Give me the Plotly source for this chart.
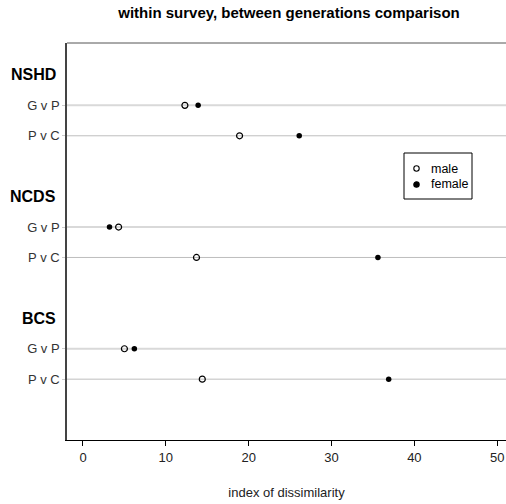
import plotly.graph_objects as go

groups = ["NSHD", "NCDS", "BCS"]
comparisons = ["G v P", "P v C"]
male = [[12.3, 18.9], [4.3, 13.7], [5.0, 14.4]]
female = [[13.9, 26.1], [3.2, 35.6], [6.2, 36.9]]
x_ticks = [0, 10, 20, 30, 40, 50]
legend_labels = ["male", "female"]

FONT = "Liberation Sans, Arial, sans-serif"

# plot area in pixels (for placing paper-referenced decorations)
L, R, T, B = 67, 506, 43, 440
PW, PH = R - L, B - T


def px_x(p):
    return (p - L) / PW


def px_y(p):
    return (B - p) / PH


# row positions (dotchart layout: group label row followed by its comparisons, blank row between groups)
label_rows, rows, row_text = [], [], []
mx, my, fx, fy = [], [], [], []
for g, name in enumerate(groups):
    top = 11 - 4 * g
    label_rows.append(top)
    for c, comp in enumerate(comparisons):
        r = top - 1 - c
        rows.append(r)
        row_text.append(comp)
        mx.append(male[g][c]); my.append(r)
        fx.append(female[g][c]); fy.append(r)

fig = go.Figure()

shapes = []
for r, t in zip(rows, row_text):
    if t == "G v P":
        shapes.append(dict(type="line", xref="paper", yref="y", x0=0, x1=1, y0=r, y1=r,
                           line=dict(color="#d9d9d9", width=2), layer="below"))
    else:
        shapes.append(dict(type="line", xref="paper", yref="y", x0=0, x1=1, y0=r, y1=r,
                           line=dict(color="#bebebe", width=1), layer="below"))
shapes.append(dict(type="line", xref="paper", yref="paper", x0=0, x1=1, y0=1, y1=1,
                   line=dict(color="#555555", width=1)))

fig.add_trace(go.Scatter(x=mx, y=my, mode="markers", name="male",
                         marker=dict(symbol="circle-open", size=6, color="black",
                                     line=dict(width=1.2, color="black"))))
fig.add_trace(go.Scatter(x=fx, y=fy, mode="markers", name="female",
                         marker=dict(symbol="circle", size=5.5, color="black")))

annotations = []
for name, r in zip(groups, label_rows):
    annotations.append(dict(text="<b>" + name + "</b>", xref="paper", yref="y", x=px_x(58), y=r,
                            xanchor="right", yanchor="middle", showarrow=False,
                            font=dict(family=FONT, size=16, color="black")))

# legend box (drawn manually to match base-R legend layout)
shapes.append(dict(type="rect", xref="paper", yref="paper",
                   x0=px_x(404), x1=px_x(472), y0=px_y(199), y1=px_y(153),
                   line=dict(color="black", width=1), fillcolor="white", layer="above"))
leg_y = [168.5, 184.5]
for i, lab in enumerate(legend_labels):
    filled = lab == "female"
    shapes.append(dict(type="circle", xref="paper", yref="paper",
                       xsizemode="pixel", ysizemode="pixel",
                       xanchor=px_x(416.5), yanchor=px_y(leg_y[i]),
                       x0=-2.7, x1=2.7, y0=-2.7, y1=2.7,
                       line=dict(color="black", width=1.1),
                       fillcolor="black" if filled else "white", layer="above"))
    annotations.append(dict(text=lab, xref="paper", yref="paper", x=px_x(429), y=px_y(leg_y[i]),
                            xanchor="left", yanchor="middle", showarrow=False,
                            font=dict(family=FONT, size=12.5, color="black")))

fig.update_layout(
    width=506, height=504,
    margin=dict(l=L, r=0, t=T, b=504 - B),
    paper_bgcolor="white", plot_bgcolor="white",
    title=dict(text="<b>within survey, between generations comparison</b>",
               x=289 / 506, xanchor="center", y=1 - 13 / 504, yanchor="middle",
               font=dict(family=FONT, size=15, color="black")),
    font=dict(family=FONT, size=12, color="#222222"),
    shapes=shapes,
    annotations=annotations,
    showlegend=False,
    xaxis=dict(range=[-1.93, 51.06], tickvals=x_ticks, ticktext=[str(v) for v in x_ticks],
               showgrid=False, zeroline=False, showline=True, linecolor="black", linewidth=1,
               ticks="outside", ticklen=5, tickcolor="black",
               tickfont=dict(family=FONT, size=13, color="#222222"),
               title=dict(text="index of dissimilarity", standoff=24,
                          font=dict(family=FONT, size=13, color="#222222"))),
    yaxis=dict(range=[-1.0, 12.05], tickvals=rows, ticktext=row_text,
               showgrid=False, zeroline=False, showline=True, linecolor="#444444", linewidth=1.5,
               ticks="outside", ticklen=3, tickcolor="#cccccc",
               tickfont=dict(family=FONT, size=13, color="#333333")),
)

fig.write_html("out.html")
